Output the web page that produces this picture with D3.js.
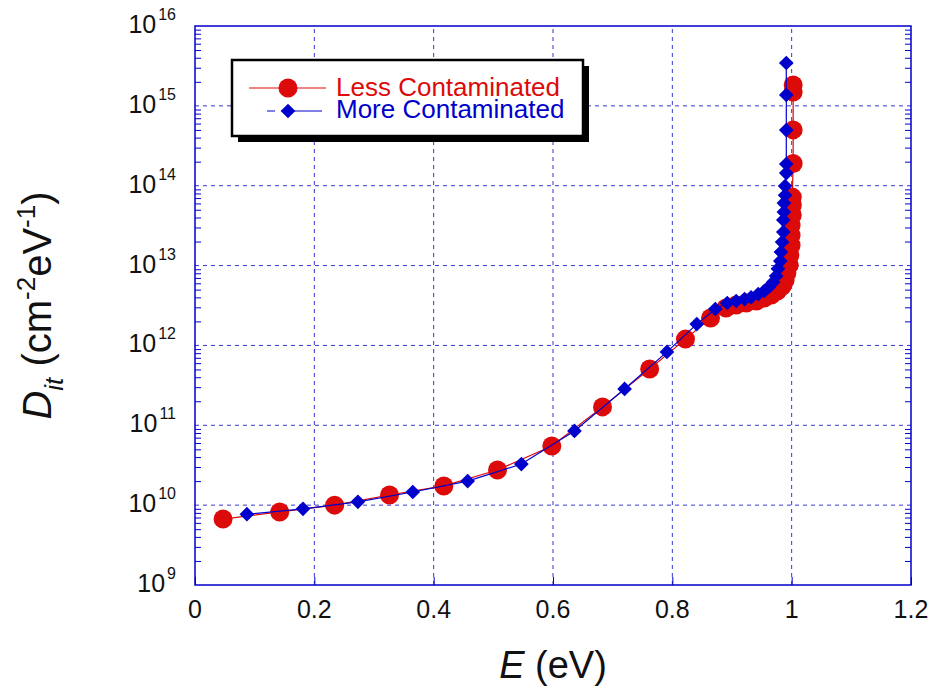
<!DOCTYPE html>
<html>
<head>
<meta charset="utf-8">
<script src="https://cdn.jsdelivr.net/npm/d3@7"></script>
<style>
  body { margin: 0; background: #fff; }
  text { font-family: Arial, "Liberation Sans", sans-serif; }
</style>
</head>
<body>
<div id="chart"></div>
<script>
const width = 935;
const height = 689;
const margin = {top: 26, right: 24, bottom: 104, left: 195};

// Less contaminated sample (red circles)
const lessE = [0.047, 0.142, 0.234, 0.326, 0.417, 0.507, 0.598, 0.683, 0.762, 0.822, 0.864,
  0.890, 0.907, 0.924, 0.941, 0.954, 0.966, 0.976, 0.984, 0.989, 0.992, 0.996, 0.997,
  0.999, 0.999, 0.999, 1.001, 1.001, 1.001, 1.0025, 1.0025, 1.0025, 1.0025];
const lessD = [6.7e9, 8.2e9, 1.0e10, 1.34e10, 1.74e10, 2.75e10, 5.5e10, 1.7e11, 5.07e11, 1.2e12, 2.2e12,
  2.95e12, 3.2e12, 3.4e12, 3.6e12, 3.93e12, 4.28e12, 4.8e12, 5.5e12, 6.6e12, 8.1e12, 1.02e13, 1.36e13,
  1.8e13, 2.4e13, 3.2e13, 4.3e13, 5.7e13, 7.2e13, 1.9e14, 5.0e14, 1.49e15, 1.82e15];

// More contaminated sample (blue diamonds)
const moreE = [0.087, 0.181, 0.273, 0.365, 0.457, 0.547, 0.636, 0.720, 0.791, 0.841, 0.872,
  0.892, 0.907, 0.921, 0.932, 0.944, 0.954, 0.962, 0.969, 0.974, 0.977, 0.981, 0.982,
  0.984, 0.986, 0.986, 0.987, 0.987, 0.989, 0.989, 0.991, 0.991, 0.991, 0.991, 0.991];
const moreD = [7.7e9, 9.0e9, 1.1e10, 1.46e10, 2.0e10, 3.27e10, 8.5e10, 2.85e11, 8.3e11, 1.85e12, 2.86e12,
  3.4e12, 3.6e12, 3.8e12, 4.0e12, 4.4e12, 4.8e12, 5.4e12, 6.2e12, 7.4e12, 9.1e12, 1.14e13, 1.48e13,
  1.97e13, 2.63e13, 3.72e13, 4.68e13, 6.07e13, 7.6e13, 9.9e13, 1.44e14, 1.87e14, 4.98e14, 1.37e15, 3.44e15];

const xTicks = [0, 0.2, 0.4, 0.6, 0.8, 1, 1.2];
const yExponents = [9, 10, 11, 12, 13, 14, 15, 16];
const legendNames = ["Less Contaminated", "More Contaminated"];

const red = "#dd0a0a";
const blue = "#0000cc";
const gridColor = "#3535d4";

const svg = d3.select("#chart")
  .append("svg")
  .attr("width", width)
  .attr("height", height);

const x = d3.scaleLinear()
  .domain([0, 1.2])
  .range([margin.left, width - margin.right]);

const y = d3.scaleLog()
  .domain([1e9, 1e16])
  .range([height - margin.bottom, margin.top]);

// grid
svg.append("g")
  .selectAll("line")
  .data(xTicks.slice(1, -1))
  .enter().append("line")
  .attr("x1", d => x(d)).attr("x2", d => x(d))
  .attr("y1", y(1e9)).attr("y2", y(1e16))
  .attr("stroke", gridColor)
  .attr("stroke-width", 1)
  .attr("stroke-dasharray", "4,4");

svg.append("g")
  .selectAll("line")
  .data(yExponents.slice(1, -1))
  .enter().append("line")
  .attr("x1", x(0)).attr("x2", x(1.2))
  .attr("y1", d => y(Math.pow(10, d))).attr("y2", d => y(Math.pow(10, d)))
  .attr("stroke", gridColor)
  .attr("stroke-width", 1)
  .attr("stroke-dasharray", "4,4");

// minor log ticks, inward on both sides
const minor = [];
yExponents.slice(0, -1).forEach(e => {
  for (let k = 2; k <= 9; k++) minor.push(k * Math.pow(10, e));
});

svg.append("g")
  .attr("transform", `translate(${x(0)},0)`)
  .call(d3.axisLeft(y).tickValues(minor).tickSize(-6).tickFormat(""))
  .call(g => g.select(".domain").remove())
  .selectAll("line").attr("stroke", blue);

svg.append("g")
  .attr("transform", `translate(${x(1.2)},0)`)
  .call(d3.axisRight(y).tickValues(minor).tickSize(-6).tickFormat(""))
  .call(g => g.select(".domain").remove())
  .selectAll("line").attr("stroke", blue);

svg.append("g")
  .attr("transform", `translate(0,${y(1e9)})`)
  .call(d3.axisBottom(x).tickValues(xTicks).tickSize(-8).tickFormat(""))
  .call(g => g.select(".domain").remove())
  .selectAll("line").attr("stroke", blue);

// frame
svg.append("rect")
  .attr("x", x(0)).attr("y", y(1e16))
  .attr("width", x(1.2) - x(0))
  .attr("height", y(1e9) - y(1e16))
  .attr("fill", "none")
  .attr("stroke", blue)
  .attr("stroke-width", 1.5);

// tick labels
svg.append("g")
  .selectAll("text")
  .data(xTicks)
  .enter().append("text")
  .attr("x", d => x(d))
  .attr("y", y(1e9) + 33)
  .attr("text-anchor", "middle")
  .attr("font-size", 25)
  .attr("fill", "#111")
  .text(d => d);

const yl = svg.append("g")
  .selectAll("text")
  .data(yExponents)
  .enter().append("text")
  .attr("x", x(0) - 19)
  .attr("y", d => y(Math.pow(10, d)) + 7)
  .attr("text-anchor", "end")
  .attr("font-size", 25)
  .attr("fill", "#111");
yl.append("tspan").text("10");
yl.append("tspan")
  .attr("font-size", 16)
  .attr("dx", 2)
  .attr("dy", -13)
  .text(d => d);

// axis titles
const xt = svg.append("text")
  .attr("x", (x(0) + x(1.2)) / 2)
  .attr("y", 678)
  .attr("text-anchor", "middle")
  .attr("font-size", 38)
  .attr("fill", "#111");
xt.append("tspan").attr("font-style", "italic").text("E");
xt.append("tspan").text(" (eV)");

const yt = svg.append("text")
  .attr("transform", `translate(51,${(y(1e9) + y(1e16)) / 2}) rotate(-90)`)
  .attr("text-anchor", "middle")
  .attr("font-size", 40)
  .attr("fill", "#111");
yt.append("tspan").attr("font-style", "italic").text("D");
yt.append("tspan").attr("font-style", "italic").attr("font-size", 26).attr("dy", 12).text("it");
yt.append("tspan").attr("dy", -12).text(" (cm");
yt.append("tspan").attr("font-size", 26).attr("dy", -16).text("-2");
yt.append("tspan").attr("dy", 16).text("eV");
yt.append("tspan").attr("font-size", 26).attr("dy", -16).text("-1");
yt.append("tspan").attr("dy", 16).text(")");

// series
const less = lessE.map((e, i) => [e, lessD[i]]);
const more = moreE.map((e, i) => [e, moreD[i]]);
const line = d3.line().x(d => x(d[0])).y(d => y(d[1]));

svg.append("path")
  .datum(less)
  .attr("d", line)
  .attr("fill", "none")
  .attr("stroke", red)
  .attr("stroke-width", 1.2);

svg.append("g")
  .selectAll("circle")
  .data(less)
  .enter().append("circle")
  .attr("cx", d => x(d[0]))
  .attr("cy", d => y(d[1]))
  .attr("r", 9.5)
  .attr("fill", red);

svg.append("path")
  .datum(more)
  .attr("d", line)
  .attr("fill", "none")
  .attr("stroke", blue)
  .attr("stroke-width", 1.2);

const diamond = d3.symbol().type(d3.symbolSquare).size(108);

svg.append("g")
  .selectAll("path")
  .data(more)
  .enter().append("path")
  .attr("d", diamond)
  .attr("transform", d => `translate(${x(d[0])},${y(d[1])}) rotate(45)`)
  .attr("fill", blue);

// legend
const legend = svg.append("g").attr("transform", "translate(232,60)");
legend.append("rect")
  .attr("x", 6).attr("y", 6)
  .attr("width", 351).attr("height", 76)
  .attr("fill", "#000");
legend.append("rect")
  .attr("width", 351).attr("height", 76)
  .attr("fill", "#fff")
  .attr("stroke", "#000")
  .attr("stroke-width", 2.5);

legend.append("line")
  .attr("x1", 17).attr("x2", 94).attr("y1", 28).attr("y2", 28)
  .attr("stroke", red).attr("stroke-width", 1.2);
legend.append("circle")
  .attr("cx", 56).attr("cy", 28).attr("r", 9.5).attr("fill", red);
legend.append("line")
  .attr("x1", 35).attr("x2", 90).attr("y1", 51).attr("y2", 51)
  .attr("stroke", blue).attr("stroke-width", 1.2)
  .attr("stroke-dasharray", "8,6,60");
legend.append("path")
  .attr("d", diamond)
  .attr("transform", "translate(56,51) rotate(45)")
  .attr("fill", blue);

legend.selectAll("text.name")
  .data(legendNames)
  .enter().append("text")
  .attr("class", "name")
  .attr("x", 104)
  .attr("y", (d, i) => 36 + i * 22)
  .attr("font-size", 26)
  .attr("fill", (d, i) => i === 0 ? red : blue)
  .text(d => d);
</script>
</body>
</html>
